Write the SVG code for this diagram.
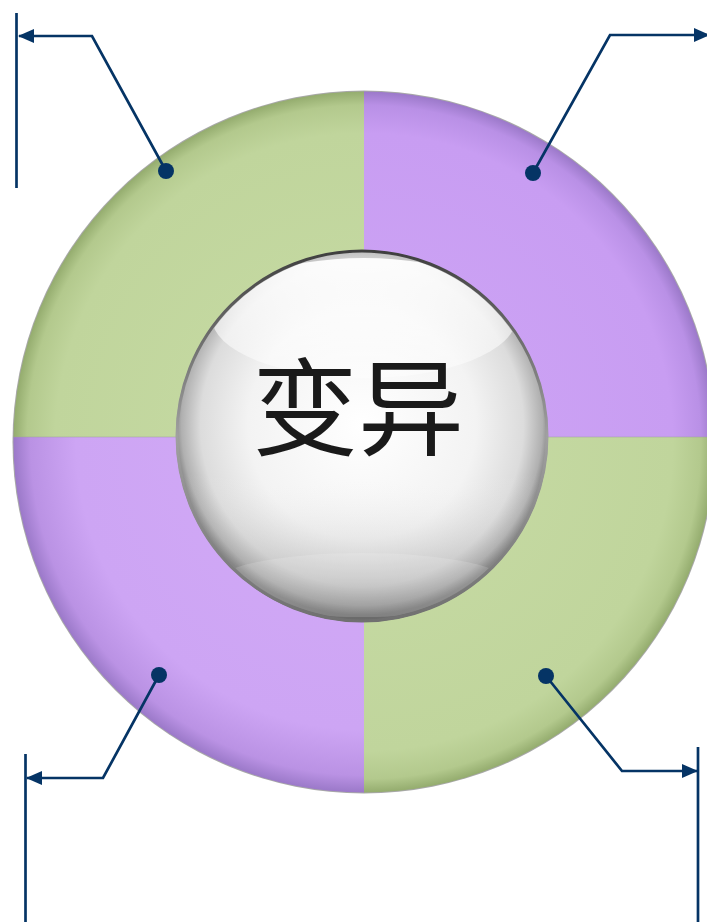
<svg xmlns="http://www.w3.org/2000/svg" width="707" height="922" viewBox="0 0 707 922">
<style>
.conn{fill:none;stroke:#053465;stroke-width:2.7;stroke-linejoin:miter}
.bar{stroke:#053465;stroke-width:2.7}
.dot{fill:#053465}
.arr{fill:#053465}
.lbl{font-family:"Noto Sans CJK SC","Noto Sans CJK TC",sans-serif;font-size:106px;fill:#1a1a1a;text-anchor:middle}
</style>
<defs>
<radialGradient id="gGreen" gradientUnits="userSpaceOnUse" cx="364" cy="442" r="351">
<stop offset="0" stop-color="#c8dca6"/>
<stop offset="0.88" stop-color="#c0d59c"/>
<stop offset="0.96" stop-color="#b3c98d"/>
<stop offset="1" stop-color="#93ab6d"/>
</radialGradient>
<radialGradient id="gPurple" gradientUnits="userSpaceOnUse" cx="364" cy="442" r="351">
<stop offset="0" stop-color="#cfa6f6"/>
<stop offset="0.88" stop-color="#c89df2"/>
<stop offset="0.96" stop-color="#b990e6"/>
<stop offset="1" stop-color="#9a78c8"/>
</radialGradient>
<radialGradient id="gPurple2" gradientUnits="userSpaceOnUse" cx="364" cy="442" r="351">
<stop offset="0" stop-color="#d3aaf7"/>
<stop offset="0.82" stop-color="#cda5f4"/>
<stop offset="0.95" stop-color="#ba92e4"/>
<stop offset="1" stop-color="#9a78c8"/>
</radialGradient>
<radialGradient id="gSphere" gradientUnits="userSpaceOnUse" cx="362" cy="425" r="190">
<stop offset="0" stop-color="#ffffff"/>
<stop offset="0.6" stop-color="#f3f3f3"/>
<stop offset="0.85" stop-color="#dcdcdc"/>
<stop offset="0.95" stop-color="#b0b0b0"/>
<stop offset="1" stop-color="#777777"/>
</radialGradient>
<linearGradient id="gShade" x1="0" y1="0" x2="0" y2="1">
<stop offset="0" stop-color="#ffffff" stop-opacity="0"/>
<stop offset="0.6" stop-color="#ffffff" stop-opacity="0"/>
<stop offset="0.88" stop-color="#9a9a9a" stop-opacity="0.35"/>
<stop offset="1" stop-color="#5a5a5a" stop-opacity="0.55"/>
</linearGradient>
<linearGradient id="gRim" x1="0" y1="0" x2="0" y2="1">
<stop offset="0" stop-color="#3f3f3f"/>
<stop offset="0.5" stop-color="#a0a0a0"/>
<stop offset="1" stop-color="#707070"/>
</linearGradient>
<linearGradient id="gHi" x1="0" y1="0" x2="0" y2="1">
<stop offset="0" stop-color="#ffffff" stop-opacity="0.95"/>
<stop offset="1" stop-color="#ffffff" stop-opacity="0.4"/>
</linearGradient>
<clipPath id="cTL"><rect x="0" y="0" width="364" height="437"/></clipPath>
<clipPath id="cTR"><rect x="364" y="0" width="400" height="437"/></clipPath>
<clipPath id="cBL"><rect x="0" y="437" width="364" height="500"/></clipPath>
<clipPath id="cBR"><rect x="364" y="437" width="400" height="500"/></clipPath>
<clipPath id="cSph"><circle cx="362" cy="436" r="183"/></clipPath>
<marker id="ah" viewBox="0 0 16 14" refX="15" refY="7" markerWidth="16" markerHeight="14" markerUnits="userSpaceOnUse" orient="auto">
<path d="M0,0 L16,7 L0,14 Z" class="arr"/>
</marker>
</defs>
<rect width="707" height="922" fill="#ffffff"/>
<g id="ring">
<circle cx="364" cy="442" r="351.5" fill="#a8a8a8"/>
<g id="q-top-left"><circle cx="364" cy="442" r="350.5" fill="url(#gGreen)" clip-path="url(#cTL)"/></g>
<g id="q-top-right"><circle cx="364" cy="442" r="350.5" fill="url(#gPurple)" clip-path="url(#cTR)"/></g>
<g id="q-bottom-left"><circle cx="364" cy="442" r="350.5" fill="url(#gPurple2)" clip-path="url(#cBL)"/></g>
<g id="q-bottom-right"><circle cx="364" cy="442" r="350.5" fill="url(#gGreen)" clip-path="url(#cBR)"/></g>
<line x1="13" y1="437" x2="715" y2="437" stroke="#a0a0a0" stroke-width="1" opacity="0.5"/>
</g>
<g id="center">
<circle cx="362" cy="436" r="186" fill="url(#gSphere)"/>
<circle cx="362" cy="436" r="186" fill="url(#gShade)"/>
<g clip-path="url(#cSph)">
<ellipse cx="362" cy="585" rx="150" ry="32" fill="#ffffff" opacity="0.15"/>
<ellipse cx="364" cy="318" rx="152" ry="60" fill="url(#gHi)"/>
</g>
<circle cx="362" cy="436" r="185" fill="none" stroke="url(#gRim)" stroke-width="3"/>
<text class="lbl" x="358" y="447">变异</text>
</g>
<g id="connectors">
<g id="c-top-left">
<line class="bar" x1="16.5" y1="13" x2="16.5" y2="188"/>
<polyline class="conn" points="166,171 92,36 19,36" marker-end="url(#ah)"/>
<circle class="dot" cx="166" cy="171" r="8"/>
</g>
<g id="c-top-right">
<polyline class="conn" points="533,173 610,35 709,35" marker-end="url(#ah)"/>
<circle class="dot" cx="533" cy="173" r="8"/>
</g>
<g id="c-bottom-left">
<line class="bar" x1="25.5" y1="754" x2="25.5" y2="922"/>
<polyline class="conn" points="159,675 103,778 27,778" marker-end="url(#ah)"/>
<circle class="dot" cx="159" cy="675" r="8"/>
</g>
<g id="c-bottom-right">
<line class="bar" x1="698" y1="747" x2="698" y2="922"/>
<polyline class="conn" points="546,676 622,771 697,771" marker-end="url(#ah)"/>
<circle class="dot" cx="546" cy="676" r="8"/>
</g>
</g>
</svg>
